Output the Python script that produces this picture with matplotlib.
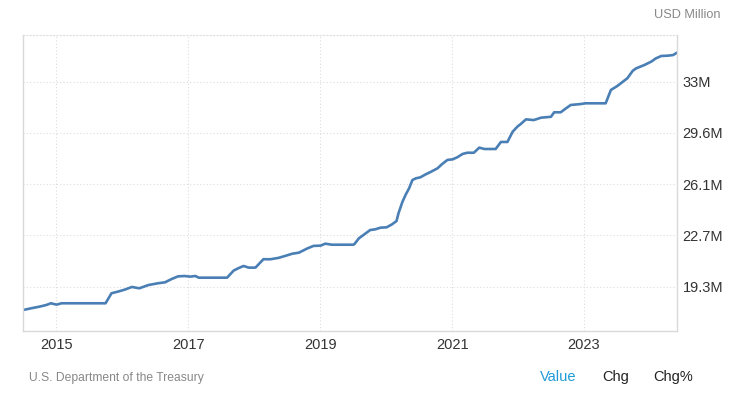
import matplotlib
matplotlib.use("Agg")
import matplotlib.pyplot as plt
import matplotlib.dates as mdates
import pandas as pd

plt.rcParams['font.family'] = ['Liberation Sans', 'DejaVu Sans']

# debt outstanding, in millions of "USD Million"
dates = [
    "2014-07-01", "2014-08-17", "2014-10-02", "2014-11-08", "2014-12-02",
    "2015-01-03", "2015-01-30", "2015-10-01", "2015-11-03", "2015-12-09",
    "2016-01-15", "2016-02-24", "2016-04-05", "2016-05-26", "2016-07-19",
    "2016-08-25", "2016-10-01", "2016-11-06", "2016-12-13", "2017-01-11",
    "2017-02-10", "2017-02-28", "2017-08-04", "2017-09-09", "2017-10-05",
    "2017-11-03", "2017-12-02", "2018-01-08", "2018-02-21", "2018-04-01",
    "2018-05-15", "2018-06-21", "2018-07-31", "2018-09-06", "2018-10-20",
    "2018-11-25", "2019-01-04", "2019-01-30", "2019-03-07", "2019-07-02",
    "2019-07-09", "2019-08-04", "2019-08-29", "2019-10-05", "2019-11-03",
    "2019-12-02", "2020-01-04", "2020-02-03", "2020-02-28", "2020-03-10",
    "2020-04-01", "2020-04-20", "2020-05-08", "2020-05-26", "2020-06-14",
    "2020-07-09", "2020-08-08", "2020-09-06", "2020-10-12", "2020-11-07",
    "2020-12-06", "2021-01-04", "2021-01-30", "2021-02-28", "2021-03-26",
    "2021-05-01", "2021-05-31", "2021-06-29", "2021-08-30", "2021-09-28",
    "2021-11-03", "2021-12-02", "2021-12-28", "2022-01-15", "2022-02-14",
    "2022-03-29", "2022-05-08", "2022-07-02", "2022-07-20", "2022-08-25",
    "2022-09-24", "2022-10-20", "2022-12-14", "2023-01-08", "2023-05-01",
    "2023-05-30", "2023-07-05", "2023-08-04", "2023-08-29", "2023-09-28",
    "2023-10-16", "2023-12-02", "2024-01-08", "2024-02-03", "2024-03-04",
    "2024-04-09", "2024-05-08", "2024-05-30",
]
values = [
    17.74, 17.86, 17.97, 18.08, 18.19,
    18.10, 18.19, 18.19, 18.86, 18.97,
    19.10, 19.28, 19.19, 19.41, 19.53,
    19.59, 19.81, 19.99, 20.01, 19.97,
    20.01, 19.90, 19.90, 20.37, 20.53,
    20.68, 20.57, 20.57, 21.13, 21.13,
    21.22, 21.35, 21.50, 21.57, 21.84,
    22.02, 22.04, 22.17, 22.10, 22.10,
    22.13, 22.53, 22.75, 23.08, 23.13,
    23.24, 23.26, 23.46, 23.68, 24.20,
    24.97, 25.47, 25.87, 26.42, 26.53,
    26.60, 26.80, 26.97, 27.20, 27.49,
    27.76, 27.80, 27.94, 28.16, 28.24,
    28.24, 28.58, 28.49, 28.49, 28.96,
    28.96, 29.64, 29.98, 30.15, 30.47,
    30.42, 30.58, 30.64, 30.94, 30.94,
    31.21, 31.43, 31.49, 31.54, 31.54,
    32.43, 32.70, 32.98, 33.21, 33.71,
    33.87, 34.10, 34.32, 34.54, 34.70,
    34.72, 34.76, 34.92,
]
y_ticks = [19.3, 22.72, 26.14, 29.56, 32.98]
y_labels = ["19.3M", "22.7M", "26.1M", "29.6M", "33M"]
x_years = [2015, 2017, 2019, 2021, 2023]

x = pd.to_datetime(dates)

fig = plt.figure(figsize=(7.32, 4.03), dpi=100)
ax = fig.add_axes([23 / 732, 72 / 403, 654 / 732, 296 / 403])

ax.plot(x, values, color="#4a7fb5", lw=1.9, solid_joinstyle="round")

ax.set_xlim(x[0], x[-1])
ax.set_ylim(16.34, 36.10)

ax.set_xticks([pd.Timestamp(f"{y}-01-01") for y in x_years])
ax.xaxis.set_major_formatter(mdates.DateFormatter("%Y"))
ax.set_yticks(y_ticks)
ax.set_yticklabels(y_labels)
ax.yaxis.tick_right()
ax.tick_params(length=0, labelsize=10.5, labelcolor="#333333")
ax.tick_params(axis="x", pad=5)
ax.tick_params(axis="y", pad=4)

ax.grid(True, color="#dddddd", linestyle=(0, (1, 2)), lw=0.8)
for side in ["left", "bottom", "right"]:
    ax.spines[side].set_color("#d9d9d9")
    ax.spines[side].set_linewidth(1.0)
ax.spines["top"].set_color("#dddddd")
ax.spines["top"].set_linestyle((0, (1, 2)))
ax.spines["top"].set_linewidth(0.8)

fig.text(720 / 732, 1 - 15 / 403, "USD Million", ha="right", va="center",
         fontsize=9.2, color="#888888")
fig.text(29 / 732, 1 - 378 / 403, "U.S. Department of the Treasury",
         ha="left", va="center", fontsize=8.7, color="#888888")
fig.text(540 / 732, 1 - 377 / 403, "Value", ha="left", va="center",
         fontsize=10.5, color="#1f9bd7")
fig.text(602 / 732, 1 - 377 / 403, "Chg", ha="left", va="center",
         fontsize=10.5, color="#222222")
fig.text(653 / 732, 1 - 377 / 403, "Chg%", ha="left", va="center",
         fontsize=10.5, color="#222222")

fig.savefig("out.png", dpi=100)
